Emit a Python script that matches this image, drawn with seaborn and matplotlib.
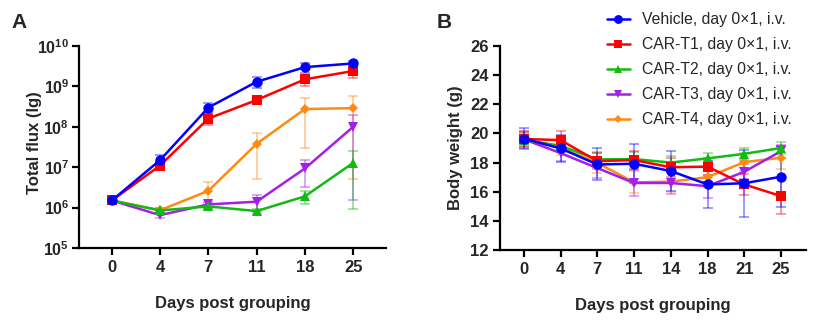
import numpy as np
import pandas as pd
import matplotlib
matplotlib.use("Agg")
import matplotlib.pyplot as plt
from matplotlib.lines import Line2D
from matplotlib.ticker import FixedLocator, FuncFormatter, NullLocator
import seaborn as sns

# ---- data -------------------------------------------------------------
groups = ["Vehicle, day 0\u00d71, i.v.", "CAR-T1, day 0\u00d71, i.v.",
          "CAR-T2, day 0\u00d71, i.v.", "CAR-T3, day 0\u00d71, i.v.",
          "CAR-T4, day 0\u00d71, i.v."]
colors = ["#0000FF", "#FF0000", "#11BB11", "#A31FEA", "#FF8A12"]
markers = ["o", "s", "^", "v", "D"]
msizes = [7.5, 6.8, 7.5, 7.5, 5.0]

days_flux = [0, 4, 7, 11, 18, 25]
flux_vehicle = [1.5e6, 1.5e7, 3.0e8, 1.3e9, 3.0e9, 3.7e9]
flux_t1 = [1.5e6, 1.1e7, 1.6e8, 4.6e8, 1.5e9, 2.4e9]
flux_t2 = [1.5e6, 8.5e5, 1.07e6, 8.2e5, 1.9e6, 1.28e7]
flux_t3 = [1.5e6, 6.5e5, 1.2e6, 1.4e6, 9.3e6, 1.0e8]
flux_t4 = [1.5e6, 8.6e5, 2.6e6, 3.8e7, 2.75e8, 2.9e8]
flux_sem_vehicle = [1.5e5, 5.0e6, 8.0e7, 4.0e8, 8.0e8, 6.5e8]
flux_sem_t1 = [1.5e5, 2.0e6, 5.0e7, 9.0e7, 4.5e8, 7.5e8]
flux_sem_t2 = [1.0e5, 1.2e5, 1.3e5, 1.2e5, 6.5e5, 1.19e7]
flux_sem_t3 = [1.0e5, 1.0e5, 2.0e5, 6.0e5, 6.0e6, 9.85e7]
flux_sem_t4 = [1.0e5, 1.0e5, 1.6e6, 3.3e7, 2.45e8, 2.85e8]

days_bw = [0, 4, 7, 11, 14, 18, 21, 25]
bw_vehicle = [19.65, 18.97, 17.87, 17.92, 17.42, 16.50, 16.58, 17.03]
bw_t1 = [19.62, 19.54, 18.10, 18.17, 17.68, 17.72, 16.50, 15.70]
bw_t2 = [19.55, 19.15, 18.22, 18.24, 18.00, 18.29, 18.60, 19.00]
bw_t3 = [19.60, 18.65, 17.62, 16.60, 16.60, 16.38, 17.37, 18.78]
bw_t4 = [19.60, 19.00, 17.98, 16.64, 16.69, 17.00, 18.03, 18.33]
bw_sem_vehicle = [0.75, 0.90, 1.10, 1.33, 1.40, 1.60, 2.30, 2.10]
bw_sem_t1 = [0.50, 0.60, 0.55, 0.60, 0.65, 0.60, 0.70, 1.25]
bw_sem_t2 = [0.50, 0.45, 0.50, 0.50, 0.45, 0.35, 0.40, 0.38]
bw_sem_t3 = [0.60, 0.55, 0.70, 0.90, 0.75, 0.80, 0.50, 0.45]
bw_sem_t4 = [0.55, 0.50, 0.70, 0.75, 0.70, 0.75, 0.60, 0.80]

flux_means = [flux_vehicle, flux_t1, flux_t2, flux_t3, flux_t4]
flux_sems = [flux_sem_vehicle, flux_sem_t1, flux_sem_t2, flux_sem_t3, flux_sem_t4]
bw_means = [bw_vehicle, bw_t1, bw_t2, bw_t3, bw_t4]
bw_sems = [bw_sem_vehicle, bw_sem_t1, bw_sem_t2, bw_sem_t3, bw_sem_t4]

# ---- style ------------------------------------------------------------
sns.set_theme(style="ticks")
plt.rcParams["font.family"] = ["Liberation Sans", "DejaVu Sans"]
plt.rcParams["mathtext.fontset"] = "custom"
plt.rcParams["mathtext.rm"] = "Liberation Sans"
plt.rcParams["mathtext.bf"] = "Liberation Sans:bold"

TICK_FS = 12
LABEL_FS = 12

fig = plt.figure(figsize=(8.17, 3.28), dpi=100)
axA = fig.add_axes([79 / 817, 1 - 248 / 328, (386 - 79) / 817, (248 - 46) / 328])
axB = fig.add_axes([500 / 817, 1 - 250 / 328, (806 - 500) / 817, (250 - 46) / 328])


def draw_panel(ax, days, means, sems):
    pos = np.arange(len(days))
    # draw treated groups first so Vehicle sits on top
    for i in reversed(range(len(groups))):
        df = pd.DataFrame({"pos": pos, "val": means[i]})
        ax.errorbar(pos, means[i], yerr=sems[i], fmt="none", ecolor=colors[i],
                    alpha=0.42, elinewidth=1.3, capsize=3.5, capthick=1.3,
                    zorder=2 + (len(groups) - i) * 0.1)
        sns.lineplot(data=df, x="pos", y="val", ax=ax, color=colors[i],
                     marker=markers[i], markersize=msizes[i],
                     markeredgewidth=0, linewidth=1.8, legend=False,
                     zorder=3 + (len(groups) - i) * 0.1)
    ax.set_xticks(pos)
    ax.set_xticklabels([str(d) for d in days])
    ax.set_xlabel("Days post grouping", fontsize=LABEL_FS, fontweight="bold", labelpad=15)
    for side in ["top", "right"]:
        ax.spines[side].set_visible(False)
    for side in ["left", "bottom"]:
        ax.spines[side].set_linewidth(1.6)
        ax.spines[side].set_color("black")
    ax.tick_params(axis="both", which="major", length=5, width=1.6, color="black",
                   labelsize=TICK_FS, pad=4)
    for lab in ax.get_xticklabels() + ax.get_yticklabels():
        lab.set_fontweight("bold")


draw_panel(axA, days_flux, flux_means, flux_sems)
axA.set_yscale("log")
axA.set_ylim(1e5, 1e10)
axA.set_xlim(-0.68, 5.68)
axA.yaxis.set_major_locator(FixedLocator([10.0 ** k for k in range(5, 11)]))
axA.yaxis.set_minor_locator(NullLocator())
axA.yaxis.set_major_formatter(
    FuncFormatter(lambda v, p: r"$\mathbf{10^{%d}}$" % int(round(np.log10(v)))))
axA.tick_params(axis="y", labelsize=11.5, pad=2)
axA.set_ylabel("Total flux (lg)", fontsize=LABEL_FS, fontweight="bold")
axA.yaxis.set_label_coords(-0.122, 0.52)

draw_panel(axB, days_bw, bw_means, bw_sems)
axB.set_ylim(12, 26)
axB.set_xlim(-0.65, 7.68)
axB.set_yticks(np.arange(12, 27, 2))
axB.tick_params(axis="y", pad=3)
for lab in axB.get_yticklabels():
    lab.set_fontweight("bold")
axB.set_ylabel("Body weight (g)", fontsize=LABEL_FS, fontweight="bold")
axB.yaxis.set_label_coords(-0.121, 0.5)

fig.text(11 / 817, 1 - 22 / 328, "A", fontsize=15, fontweight="bold", va="center")
fig.text(437 / 817, 1 - 22 / 328, "B", fontsize=15, fontweight="bold", va="center")

handles = [Line2D([], [], color=c, marker=m, markersize=s * 0.85, markeredgewidth=0,
                  linewidth=1.8) for c, m, s in zip(colors, markers, msizes)]
fig.legend(handles, groups, loc="upper left", bbox_to_anchor=(607 / 817, 1 - 12 / 328),
           frameon=False, fontsize=11.3, handlelength=1.45, handletextpad=0.75,
           labelspacing=0.64, borderpad=0, borderaxespad=0)

fig.savefig("out.png", dpi=100)
